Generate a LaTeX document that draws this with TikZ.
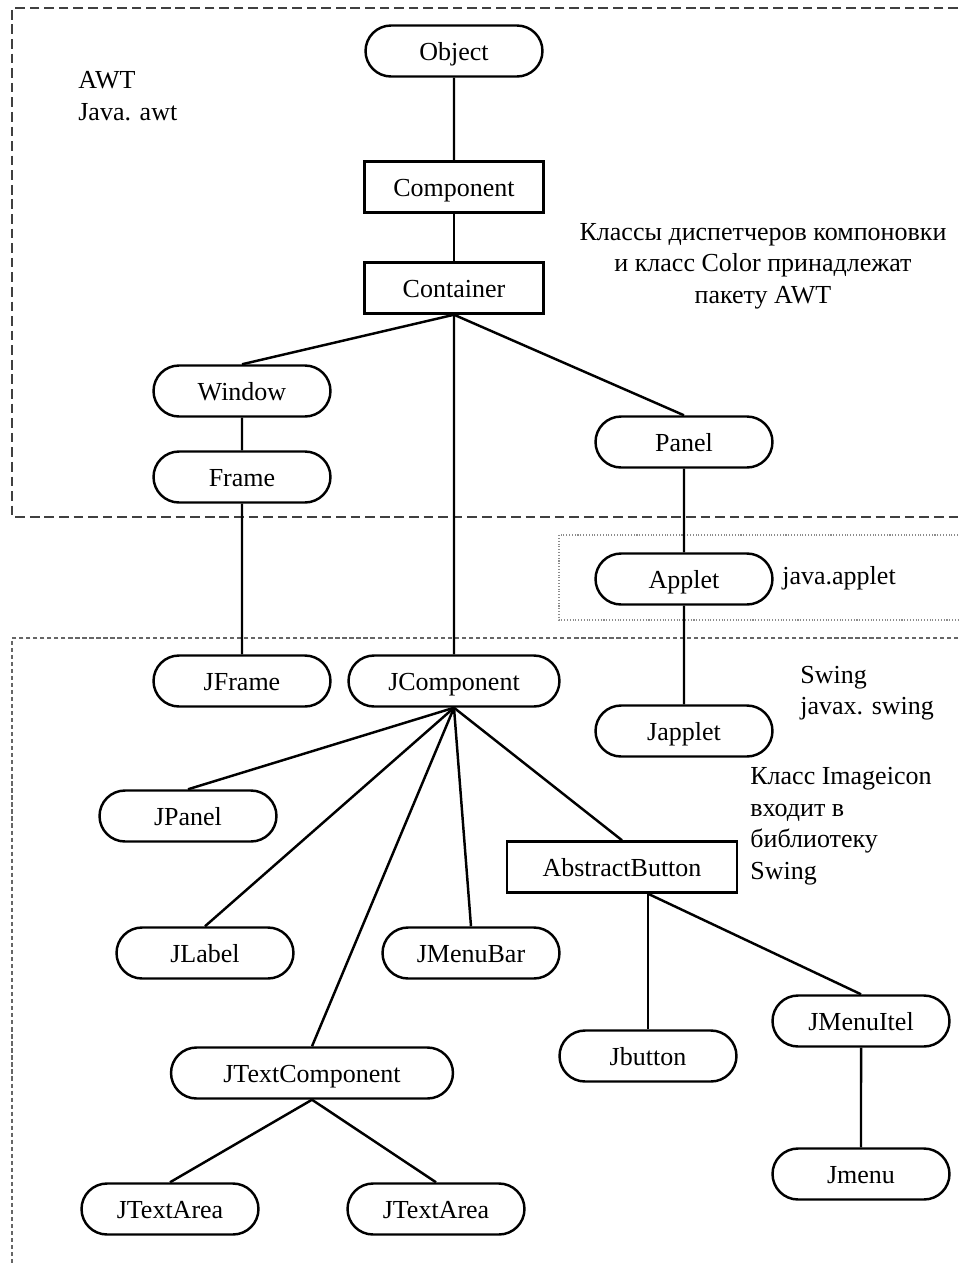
\documentclass[tikz,border=0pt]{standalone}
\usepackage{fontspec}
\setmainfont{Liberation Serif}
\usetikzlibrary{shapes.misc}

\tikzset{
  cls/.style={draw, line width=1.4pt, minimum height=1.02cm, inner sep=0pt,
    text height=11pt, text depth=0pt, font=\fontsize{14.8}{18}\selectfont},
  classpill/.style={cls, rounded rectangle, minimum width=3.54cm},
  classbox/.style={cls, rectangle, minimum width=3.58cm},
  edge/.style={line width=1.4pt},
  note/.style={align=left, anchor=west, inner sep=0pt, font=\fontsize{14.8}{18}\selectfont},
  pkgawt/.style={line width=0.9pt, black!75, dash pattern=on 5.5pt off 2.8pt},
  pkgswing/.style={line width=0.8pt, black!60, dash pattern=on 2.4pt off 1.6pt},
  pkgapplet/.style={line width=0.6pt, black!45, densely dotted}
}

\begin{document}
\begin{tikzpicture}[x=0.02cm,y=-0.02cm]

\useasboundingbox (0,0) rectangle (958,1265);

% package frames
\draw[pkgawt] (958,8)--(12,8)--(12,517)--(958,517);
\draw[pkgapplet] (958,535)--(559,535)--(559,620)--(958,620);
\draw[pkgswing] (958,638)--(12,638)--(12,1265);

% AWT part
\node[classpill] (obj) at (454,51) {Object};
\node[classbox] (comp) at (454,187) {Component};
\node[classbox] (cont) at (454,288) {Container};
\node[classpill] (win) at (242,391) {Window};
\node[classpill] (frame) at (242,477) {Frame};
\node[classpill] (panel) at (684,442) {Panel};
\node[classpill] (applet) at (684,579) {Applet};

% Swing part
\node[classpill] (jframe) at (242,681) {JFrame};
\node[classpill, minimum width=4.22cm] (jcomp) at (454,681) {JComponent};
\node[classpill] (japplet) at (684,731) {Japplet};
\node[classpill] (jpanel) at (188,816) {JPanel};
\node[classbox, minimum width=4.6cm] (absbtn) at (622,867) {AbstractButton};
\node[classpill] (jlabel) at (205,953) {JLabel};
\node[classpill] (jmenubar) at (471,953) {JMenuBar};
\node[classpill] (jmenuitel) at (861,1021) {JMenuItel};
\node[classpill] (jbutton) at (648,1056) {Jbutton};
\node[classpill, minimum width=5.64cm] (jtextcomp) at (312,1073) {JTextComponent};
\node[classpill] (jtextarea1) at (170,1209) {JTextArea};
\node[classpill] (jtextarea2) at (436,1209) {JTextArea};
\node[classpill] (jmenu) at (861,1174) {Jmenu};

% notes
\node[note] (awtnote) at (78,96) {AWT\\Java. awt};
\node[note, align=center, anchor=center] (layoutnote) at (763,266)
  {Классы диспетчеров компоновки\\и класс Color принадлежат\\пакету AWT};
\node[note] (appletnote) at (782,578) {java.applet};
\node[note] (swingnote) at (800,693) {Swing\\javax. swing};
\node[note] (iconnote) at (750,826) {Класс Imageicon\\входит в\\библиотеку\\Swing};

% connectors
\draw[edge] (obj)--(comp);
\draw[edge] (comp)--(cont);
\draw[edge] (cont.south)--(win.north);
\draw[edge] (cont.south)--(panel.north);
\draw[edge] (cont)--(jcomp);
\draw[edge] (win)--(frame);
\draw[edge] (frame)--(jframe);
\draw[edge] (panel)--(applet);
\draw[edge] (applet)--(japplet);

\foreach \c in {jpanel,jlabel,jtextcomp,jmenubar,absbtn}{
\draw[edge] (jcomp.south)--(\c.north);
}

\coordinate (absfork) at (absbtn.south -| jbutton.north);
\draw[edge] (absfork)--(jbutton.north);
\draw[edge] (absfork)--(jmenuitel.north);
\draw[edge] (jmenuitel)--(jmenu);

\draw[edge] (jtextcomp.south)--(jtextarea1.north);
\draw[edge] (jtextcomp.south)--(jtextarea2.north);

\end{tikzpicture}
\end{document}
